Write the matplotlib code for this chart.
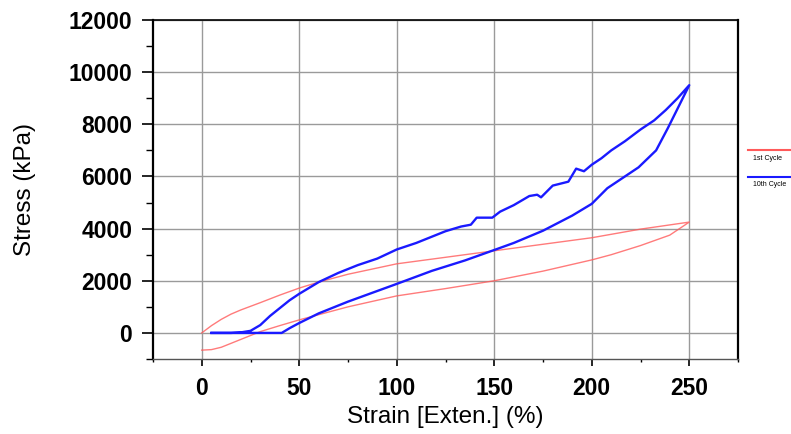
import matplotlib
matplotlib.use("Agg")
import matplotlib.pyplot as plt
from matplotlib.lines import Line2D
from matplotlib.ticker import MultipleLocator

plt.rcParams['font.family'] = ['Liberation Sans', 'DejaVu Sans']

# 1st cycle
c1_load_x = [0, 5, 10, 15, 20, 25, 30, 40, 50, 60, 75, 100, 125, 150, 175, 200, 225, 250]
c1_load_y = [0, 280, 520, 720, 880, 1020, 1160, 1450, 1720, 1950, 2250, 2650, 2900, 3150, 3400, 3650, 3980, 4250]
c1_unload_x = [250, 240, 225, 210, 200, 175, 150, 125, 100, 75, 50, 40, 30, 20, 10, 5, 0]
c1_unload_y = [4250, 3750, 3350, 3000, 2800, 2370, 2000, 1700, 1420, 1000, 500, 280, 50, -250, -550, -640, -660]

# 10th cycle
c10_load_x = [5, 15, 20, 25, 30, 35, 40, 45, 50, 60, 70, 80, 90, 100, 110, 120, 125, 133, 138, 141,
              149, 153, 160, 168, 172, 174, 180, 188, 192, 196, 200, 205, 210, 217, 225, 232, 238, 244, 250]
c10_load_y = [0, 0, 20, 80, 300, 650, 950, 1250, 1500, 1950, 2300, 2600, 2850, 3200, 3450, 3750, 3900, 4080, 4150, 4420,
              4420, 4650, 4900, 5250, 5300, 5200, 5650, 5800, 6300, 6200, 6450, 6700, 7000, 7350, 7800, 8150, 8550, 9000, 9500]
c10_unload_x = [250, 245, 239, 233, 224, 215, 208, 200, 190, 175, 160, 150, 135, 118, 100, 75, 60, 50, 45, 41, 30, 20, 5]
c10_unload_y = [9500, 8750, 7850, 7000, 6350, 5900, 5550, 4950, 4500, 3920, 3450, 3180, 2780, 2380, 1880, 1200, 750, 380, 180, 0, 0, 0, 0]

legend_labels = ["1st Cycle", "10th Cycle"]
red = "#ff5a5a"
blue = "#1a1aff"

fig = plt.figure(figsize=(7.91, 4.34), dpi=100)
ax = fig.add_axes([153/791, 1 - 359/434, (738-153)/791, (359-20)/434])

ax.plot(c1_load_x + c1_unload_x, c1_load_y + c1_unload_y, color=red, lw=1.0, alpha=0.8)
ax.plot(c10_load_x + c10_unload_x, c10_load_y + c10_unload_y, color=blue, lw=1.7)

ax.set_xlim(-25, 275)
ax.set_ylim(-1000, 12000)
ax.xaxis.set_major_locator(MultipleLocator(50))
ax.xaxis.set_minor_locator(MultipleLocator(25))
ax.yaxis.set_major_locator(MultipleLocator(2000))
ax.yaxis.set_minor_locator(MultipleLocator(1000))
ax.set_xticks([0, 50, 100, 150, 200, 250])
ax.set_yticks([0, 2000, 4000, 6000, 8000, 10000, 12000])

ax.grid(True, which='major', color='#9a9a9a', lw=1.0)
ax.set_axisbelow(True)
for s in ax.spines.values():
    s.set_color('black')
ax.spines['left'].set_linewidth(1.6)
ax.spines['right'].set_linewidth(1.6)
ax.spines['top'].set_linewidth(1.2)
ax.spines['bottom'].set_linewidth(1.0)
ax.spines['bottom'].set_color('#555555')

ax.tick_params(axis='y', which='major', direction='out', length=8, width=1.2, labelsize=16.5, pad=7)
ax.tick_params(axis='y', which='minor', direction='out', length=5, width=1.0)
ax.tick_params(axis='x', which='major', direction='out', length=5, width=1.2, labelsize=16.5, pad=8)
ax.tick_params(axis='x', which='minor', direction='out', length=2.5, width=1.0)
for lab in ax.get_xticklabels() + ax.get_yticklabels():
    lab.set_fontweight('bold')

ax.set_xlabel("Strain [Exten.] (%)", fontsize=17.5, labelpad=4)
ax.set_ylabel("Stress (kPa)", fontsize=17.5, labelpad=23)

# legend at right, outside the axes
fig.add_artist(Line2D([748/791, 1.0], [1 - 150/434, 1 - 150/434], color=red, lw=1.5, transform=fig.transFigure))
fig.add_artist(Line2D([748/791, 1.0], [1 - 177/434, 1 - 177/434], color=blue, lw=1.5, transform=fig.transFigure))
fig.text(753/791, 1 - 158/434, legend_labels[0], fontsize=5, va='center', ha='left')
fig.text(753/791, 1 - 185/434, legend_labels[1], fontsize=5, va='center', ha='left')

fig.savefig("out.png", dpi=100)
